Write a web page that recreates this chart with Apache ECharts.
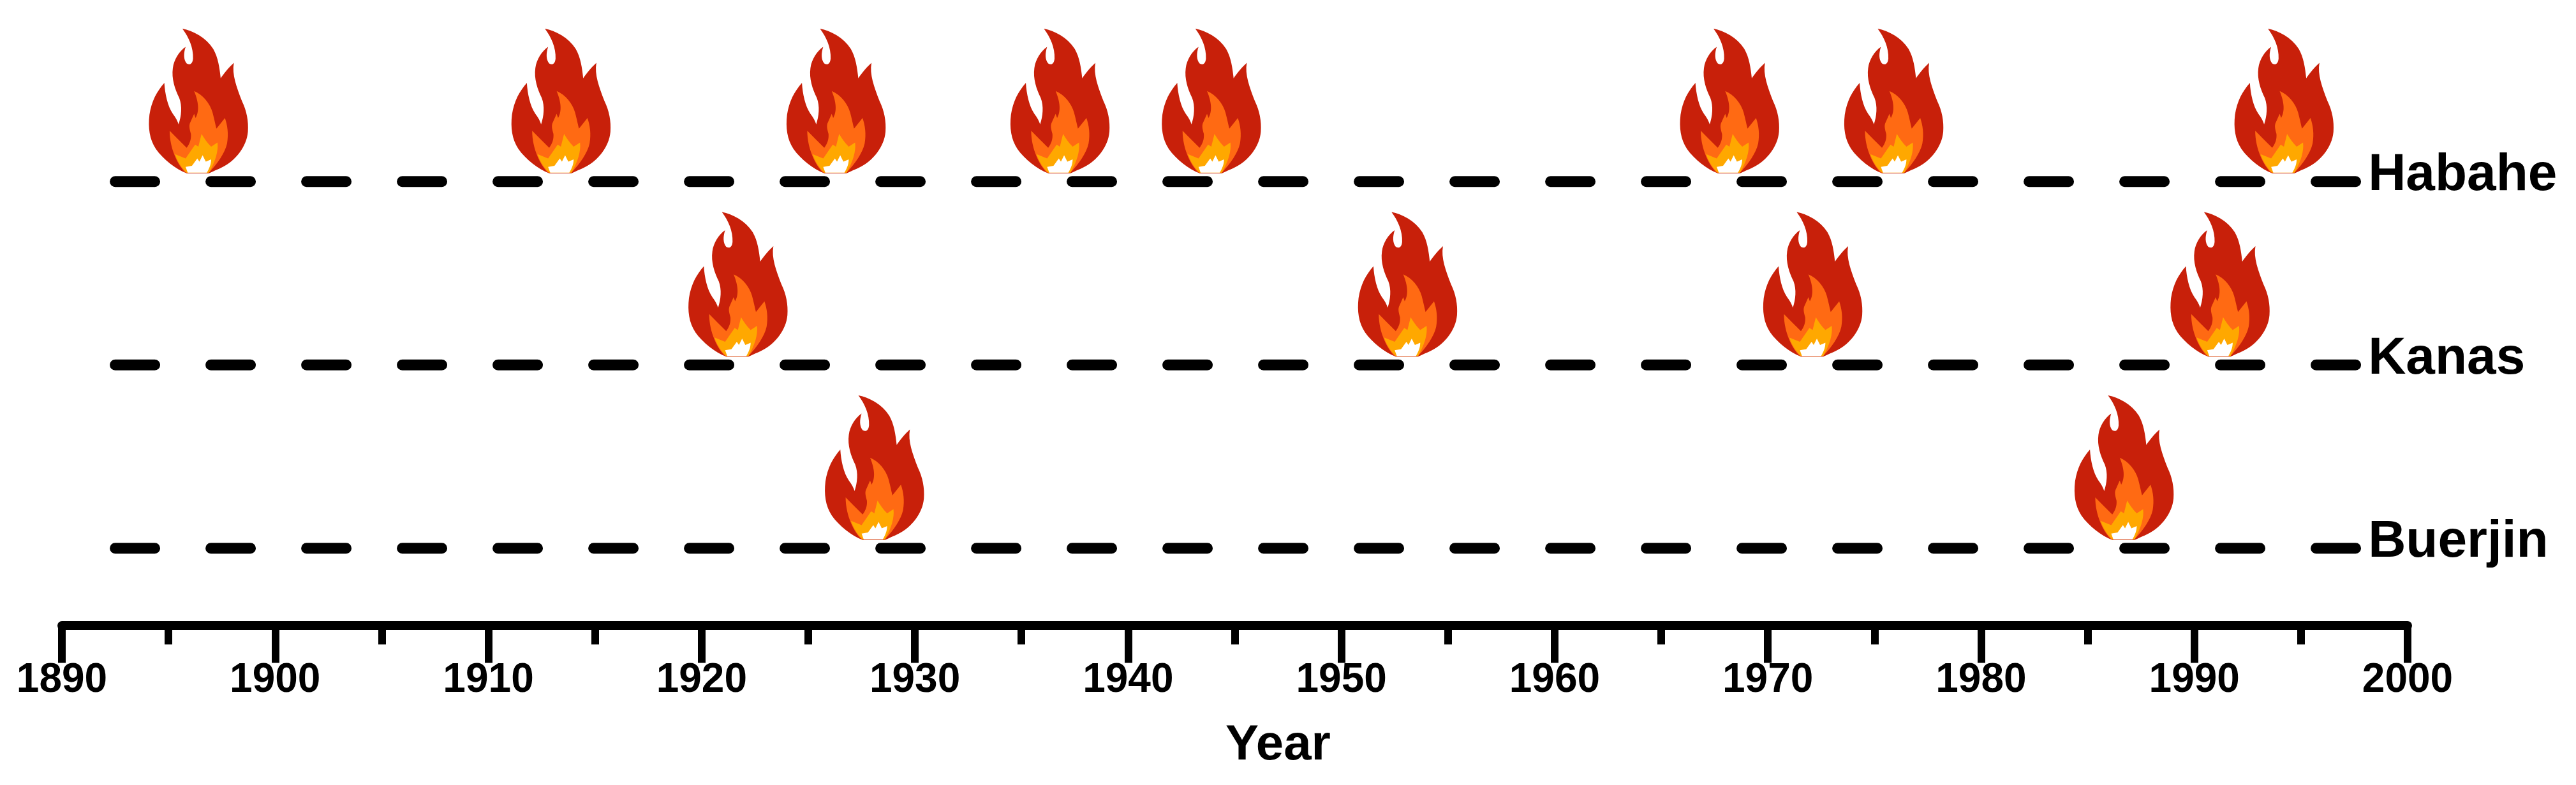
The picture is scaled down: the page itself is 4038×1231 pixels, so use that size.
<!DOCTYPE html>
<html>
<head>
<meta charset="utf-8">
<title>Fire years</title>
<script src="https://cdn.jsdelivr.net/npm/echarts@6/dist/echarts.min.js"></script>
<style>
  html, body { margin: 0; padding: 0; background: #fff; }
  #chart { width: 4038px; height: 1231px; }
</style>
</head>
<body>
<div id="chart"></div>
<script>
// --- data ---
const siteNames = ['Buerjin', 'Kanas', 'Habahe'];
const habaheYears = [1896.4, 1913.4, 1926.3, 1936.8, 1943.9, 1968.2, 1975.9, 1994.2];
const kanasYears = [1921.7, 1953.1, 1972.1, 1991.2];
const buerjinYears = [1928.1, 1986.7];
const lineSpan = [1892.5, 1998];
const xTicks = { min: 1890, max: 2000, step: 10 };

// flame drawn in layers, coordinates in a 900 box, base centre at 325,725
const flameLayers = [
  { fill: '#C8200A', d: 'M250 45C300 55 360 85 395 140C418 180 425 230 430 278C445 255 470 225 492 205C482 260 505 320 530 385C552 430 562 480 558 530C552 600 500 665 440 695C415 708 395 715 375 725L270 725C220 705 160 660 125 610C95 565 88 510 95 450C105 385 130 340 165 300C168 350 180 410 205 445C218 462 228 480 232 495C245 455 250 410 235 370C215 330 198 280 205 230C210 190 235 150 265 130C255 160 255 190 270 208C285 218 298 210 300 185C302 135 280 85 250 45Z' },
  { fill: '#FF6A13', d: 'M305 338C345 355 380 395 392 440C400 470 405 495 410 515L450 465C462 500 468 540 460 585C450 630 415 680 375 722L265 722C230 690 190 610 190 525L230 565L270 605C285 585 292 565 290 540C285 520 280 505 285 490L305 445L312 465C335 425 320 375 305 338Z' },
  { fill: '#FFA800', d: 'M340 540C352 560 365 580 385 600L415 580C420 620 405 670 375 722L270 722C245 700 225 665 215 635L265 655L310 590L325 600Z' },
  { fill: '#FFFFFF', d: 'M345 640L360 670L385 660C385 685 375 705 365 722L275 722L265 695L295 690L320 655L330 670Z' }
];

function toPoints(years, row) {
  return years.map(y => [y, row]);
}

function renderFlame(params, api) {
  const p = api.coord([api.value(0), api.value(1)]);
  return {
    type: 'group',
    x: p[0],
    y: p[1] - 13,
    scaleX: 1 / 3,
    scaleY: 1 / 3,
    children: flameLayers.map(l => ({
      type: 'path',
      x: -325,
      y: -725,
      shape: { pathData: l.d },
      style: { fill: l.fill }
    }))
  };
}

function siteLine(row) {
  return {
    type: 'line',
    name: siteNames[row - 1],
    data: lineSpan.map(x => [x, row]),
    showSymbol: false,
    silent: true,
    lineStyle: { color: '#000', width: 17, type: [62, 88], cap: 'round' },
    endLabel: {
      show: true,
      formatter: siteNames[row - 1],
      color: '#000',
      fontFamily: 'Liberation Sans',
      fontWeight: 'bold',
      fontSize: 82,
      distance: 5,
      offset: [0, -9]
    }
  };
}

const chart = echarts.init(document.getElementById('chart'));
chart.setOption({
  animation: false,
  backgroundColor: '#fff',
  grid: { left: 97, top: 26, width: 3677, height: 954.5 },
  xAxis: {
    type: 'value',
    min: xTicks.min,
    max: xTicks.max,
    interval: xTicks.step,
    name: 'Year',
    nameLocation: 'middle',
    nameGap: 150,
    nameTextStyle: { color: '#000', fontFamily: 'Liberation Sans', fontWeight: 'bold', fontSize: 78, padding: [0, 0, 0, 136] },
    axisLine: { lineStyle: { color: '#000', width: 14 } },
    axisTick: { length: 59, lineStyle: { color: '#000', width: 12 } },
    minorTick: { show: true, splitNumber: 2, length: 30, lineStyle: { color: '#000', width: 12 } },
    splitLine: { show: false },
    axisLabel: {
      margin: 55,
      fontFamily: 'Liberation Sans',
      fontWeight: 'bold',
      fontSize: 64,
      color: v => (v === 1900 ? '#3a3a3a' : '#000'),
      formatter: v => String(v)
    }
  },
  yAxis: { type: 'value', min: 0.58, max: 3.9, show: false },
  series: [
    siteLine(3),
    siteLine(2),
    siteLine(1),
    {
      type: 'custom',
      name: 'fires',
      silent: true,
      clip: false,
      z: 5,
      renderItem: renderFlame,
      encode: { x: 0, y: 1 },
      data: toPoints(habaheYears, 3).concat(toPoints(kanasYears, 2), toPoints(buerjinYears, 1))
    }
  ]
});
</script>
</body>
</html>
